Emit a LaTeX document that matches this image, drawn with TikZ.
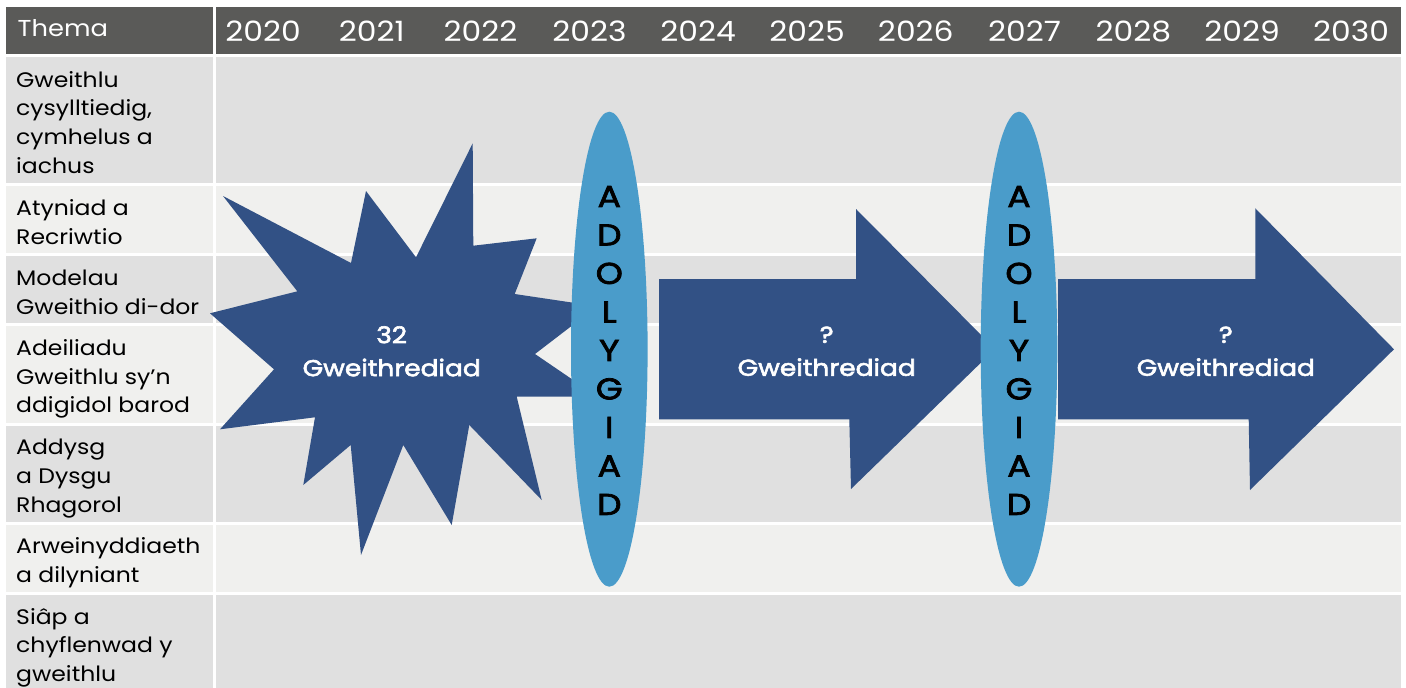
\documentclass[tikz,border=0pt]{standalone}
\usepackage{fontspec}
\setmainfont{Poppins}[FakeStretch=1.12]
\newfontfamily\medfont{Poppins}[FakeStretch=1.15, FakeBold=2.5]
\usetikzlibrary{shapes.geometric}
\definecolor{hdr}{RGB}{90,90,88}
\definecolor{rowdark}{RGB}{224,224,224}
\definecolor{rowlight}{RGB}{240,240,238}
\definecolor{navy}{RGB}{50,81,133}
\definecolor{revblue}{RGB}{74,156,202}
\tikzset{
  lbl/.style={anchor=base west, align=left, inner sep=0pt, text=black, font=\fontsize{21}{28.7}\selectfont},
  hdrtxt/.style={anchor=base, inner sep=0pt, text=white, font=\fontsize{28}{30}\selectfont},
  bluetxt/.style={align=center, inner sep=0pt, text=white, font=\medfont\fontsize{23}{33}\selectfont},
  rev/.style={ellipse, fill=revblue, minimum width=76.6pt, minimum height=475pt, inner sep=0pt},
  revtxt/.style={align=center, inner sep=0pt, text=black, font=\medfont\fontsize{30}{38.5}\selectfont},
  shapefill/.style={fill=navy}
}
\begin{document}
\begin{tikzpicture}[x=1pt,y=-1pt]
\useasboundingbox (0,0) rectangle (1406,688);
\fill[white] (0,0) rectangle (1406,688);
% table cells
\foreach \t/\b/\c in {7/54.3/hdr, 56.7/182.7/rowdark, 185.7/252.7/rowlight, 255.7/322.7/rowdark, 325.7/422.7/rowlight, 425.7/521.7/rowdark, 524.7/591.7/rowlight, 594.7/688/rowdark}{
  \fill[\c] (5.5,\t) rectangle (213.3,\b);
  \fill[\c] (215.7,\t) rectangle (1401.3,\b);
}
% header
\node[hdrtxt, anchor=base west, font=\fontsize{23}{26}\selectfont] (thema) at (17.5,36) {Thema};
\foreach \y [count=\i from 0] in {2020,2021,2022,2023,2024,2025,2026,2027,2028,2029,2030}
  \node[hdrtxt] (y\y) at ({263+108.8*\i},41) {\y};
% row labels (anchor = baseline of last line)
\node[lbl] (l1) at (16,173.1) {Gweithlu\\cysylltiedig,\\cymhelus a\\iachus};
\node[lbl] (l2) at (16,244.2) {Atyniad a\\Recriwtio};
\node[lbl] (l3) at (16,314.2) {Modelau\\Gweithio di-dor};
\node[lbl] (l4) at (16,412.9) {Adeiliadu\\Gweithlu sy’n\\ddigidol barod};
\node[lbl] (l5) at (16,512) {Addysg\\a Dysgu\\Rhagorol};
\node[lbl] (l6) at (16,582.5) {Arweinyddiaeth\\a dilyniant};
\node[lbl] (l7) at (16,681.5) {Siâp a\\chyflenwad y\\gweithlu};
% star
\fill[shapefill] (223,196) -- (351,263) -- (366,191) -- (416,257.3) -- (472.7,143.3) -- (473.3,245.7) -- (536.7,238.3) -- (514.7,294) -- (597.2,306.3) -- (535,354) -- (597.6,396.7) -- (516.7,396.7) -- (541.7,500) -- (469.3,425) -- (451.7,525) -- (403.3,445) -- (361,555) -- (350.7,445) -- (303.3,485) -- (315,417.3) -- (220,429.3) -- (274,369.3) -- (210,313.3) -- (297.3,291.3) -- cycle;
% arrows
\fill[shapefill] (659,279) -- (856,279) -- (856,209) -- (995,349) -- (851,489) -- (849.3,419.3) -- (659,419.3) -- cycle;
\fill[shapefill] (1058,279) -- (1255.3,279) -- (1255.3,208.3) -- (1394,349.3) -- (1250,490) -- (1248.7,419.3) -- (1058,419.3) -- cycle;
\node[bluetxt] (startxt) at (391.7,351.3) {32\\Gweithrediad};
\node[bluetxt] (arr1txt) at (826.7,351.3) {?\\Gweithrediad};
\node[bluetxt] (arr2txt) at (1225.8,351.3) {?\\Gweithrediad};
% review ellipses
\node[rev] (rev1) at (609.3,349.2) {};
\node[rev] (rev2) at (1019,349.2) {};
\node[revtxt] (rev1txt) at (609.3,350.5) {A\\D\\O\\L\\Y\\G\\I\\A\\D};
\node[revtxt] (rev2txt) at (1019,350.5) {A\\D\\O\\L\\Y\\G\\I\\A\\D};
\end{tikzpicture}
\end{document}
